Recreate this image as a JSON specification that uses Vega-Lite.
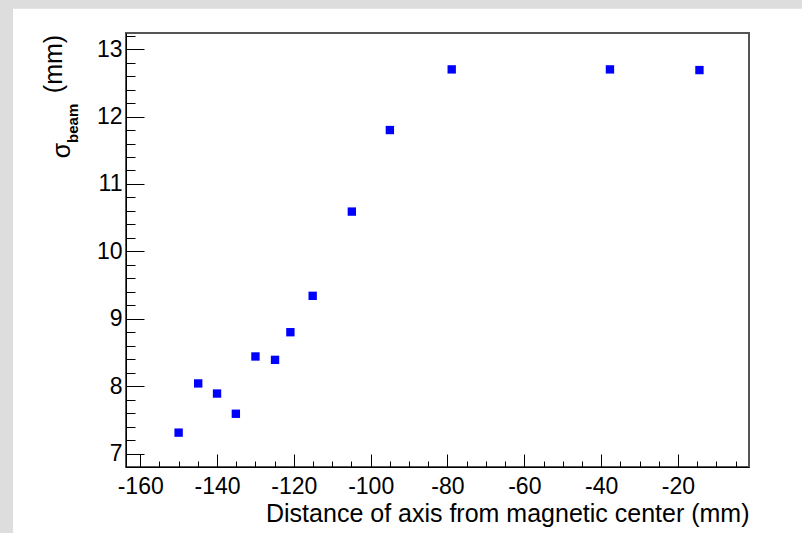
{
  "$schema": "https://vega.github.io/schema/vega-lite/v6.json",
  "width": 623,
  "height": 434,
  "autosize": {"type": "none"},
  "padding": {"left": 126, "top": 33, "right": 53, "bottom": 66},
  "background": "white",
  "config": {
    "view": {"stroke": "#555555", "strokeWidth": 2},
    "font": "Liberation Sans"
  },
  "layer": [
    {
      "data": {"values": [{}]},
      "mark": {"type": "rect", "color": "#dddddd"},
      "encoding": {
        "x": {"datum": -260, "type": "quantitative", "scale": {"domain": [-163.7, -1.5], "nice": false, "zero": false}},
        "x2": {"datum": -193.1},
        "y": {"datum": 20, "type": "quantitative", "scale": {"domain": [6.8, 13.24], "nice": false, "zero": false}},
        "y2": {"datum": 0}
      }
    },
    {
      "data": {"values": [{}]},
      "mark": {"type": "rect", "color": "#dddddd"},
      "encoding": {
        "x": {"datum": -260, "type": "quantitative"},
        "x2": {"datum": 60},
        "y": {"datum": 20, "type": "quantitative"},
        "y2": {"datum": 13.6}
      }
    },
    {
      "data": {"values": [{}]},
      "mark": {"type": "text", "angle": 270, "fontSize": 25, "font": "Liberation Sans", "align": "center", "baseline": "alphabetic", "color": "black"},
      "encoding": {
        "x": {"datum": -178.3, "type": "quantitative"},
        "y": {"datum": 11.495, "type": "quantitative"},
        "text": {"value": "σ"}
      }
    },
    {
      "data": {"values": [{}]},
      "mark": {"type": "text", "angle": 270, "fontSize": 15, "fontWeight": "bold", "font": "Liberation Sans", "align": "center", "baseline": "alphabetic", "color": "black"},
      "encoding": {
        "x": {"datum": -176.3, "type": "quantitative"},
        "y": {"datum": 11.9, "type": "quantitative"},
        "text": {"value": "beam"}
      }
    },
    {
      "data": {"values": [{}]},
      "mark": {"type": "text", "angle": 270, "fontSize": 25, "font": "Liberation Sans", "align": "center", "baseline": "alphabetic", "color": "black"},
      "encoding": {
        "x": {"datum": -180.4, "type": "quantitative"},
        "y": {"datum": 12.78, "type": "quantitative"},
        "text": {"value": "(mm)"}
      }
    },
    {
      "data": {
        "values": [
          {"distance": -150.0, "sigma": 7.31},
          {"distance": -144.9, "sigma": 8.04},
          {"distance": -140.0, "sigma": 7.89},
          {"distance": -135.1, "sigma": 7.59},
          {"distance": -130.0, "sigma": 8.44},
          {"distance": -124.9, "sigma": 8.39},
          {"distance": -120.9, "sigma": 8.80},
          {"distance": -115.1, "sigma": 9.34},
          {"distance": -104.9, "sigma": 10.59},
          {"distance": -95.0, "sigma": 11.80},
          {"distance": -78.9, "sigma": 12.70},
          {"distance": -37.7, "sigma": 12.70},
          {"distance": -14.4, "sigma": 12.69}
        ]
      },
      "mark": {"type": "point", "shape": "square", "filled": true, "size": 70, "color": "#0000ff", "opacity": 1, "strokeWidth": 0},
      "encoding": {
        "x": {
          "field": "distance",
          "type": "quantitative",
          "scale": {"domain": [-163.7, -1.5], "nice": false, "zero": false},
          "axis": {
            "values": [-160, -155, -150, -145, -140, -135, -130, -125, -120, -115, -110, -105, -100, -95, -90, -85, -80, -75, -70, -65, -60, -55, -50, -45, -40, -35, -30, -25, -20, -15, -10, -5],
            "tickCount": 200,
            "title": "Distance of axis from magnetic center (mm)",
            "titleFont": "Liberation Sans",
            "titleFontSize": 25,
            "titleFontWeight": "normal",
            "titleColor": "black",
            "titleAnchor": "end",
            "titlePadding": -4,
            "labelExpr": "datum.value % 20 === 0 ? '' + datum.value : ''",
            "labelFont": "Liberation Sans",
            "labelFontSize": 23,
            "labelColor": "black",
            "labelFlush": false,
            "labelOverlap": false,
            "labelPadding": 21,
            "tickSize": {"condition": {"test": "datum.value % 20 === 0", "value": -13}, "value": -6},
            "tickColor": "black",
            "tickWidth": 1,
            "domainColor": "black",
            "domainWidth": 1,
            "grid": false,
            "zindex": 1
          }
        },
        "y": {
          "field": "sigma",
          "type": "quantitative",
          "scale": {"domain": [6.8, 13.24], "nice": false, "zero": false},
          "axis": {
            "values": [7, 7.2, 7.4, 7.6, 7.8, 8, 8.2, 8.4, 8.6, 8.8, 9, 9.2, 9.4, 9.6, 9.8, 10, 10.2, 10.4, 10.6, 10.8, 11, 11.2, 11.4, 11.6, 11.8, 12, 12.2, 12.4, 12.6, 12.8, 13, 13.2],
            "tickCount": 200,
            "title": null,
            "labelExpr": "abs(datum.value - round(datum.value)) < 0.001 ? '' + round(datum.value) : ''",
            "labelFont": "Liberation Sans",
            "labelFontSize": 23,
            "labelColor": "black",
            "labelFlush": false,
            "labelOverlap": false,
            "labelPadding": 22,
            "tickSize": {"condition": {"test": "abs(datum.value - round(datum.value)) < 0.001", "value": -18}, "value": -9},
            "tickColor": "black",
            "tickWidth": 1,
            "domainColor": "black",
            "domainWidth": 1,
            "grid": false,
            "zindex": 1
          }
        }
      }
    }
  ]
}
